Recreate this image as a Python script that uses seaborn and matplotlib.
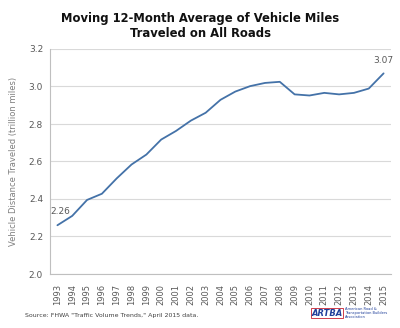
import matplotlib
matplotlib.use("Agg")
import matplotlib.pyplot as plt
import seaborn as sns
import pandas as pd
import numpy as np

years = [str(y) for y in range(1993, 2016)]
vmt = [2.26, 2.31, 2.395, 2.428, 2.51, 2.584, 2.637, 2.717, 2.763, 2.818, 2.86,
       2.929, 2.973, 3.002, 3.019, 3.025, 2.958, 2.952, 2.966, 2.958, 2.966, 2.989, 3.07]
yticks = [2.0, 2.2, 2.4, 2.6, 2.8, 3.0, 3.2]

sns.set_style("white")
plt.rcParams['font.family'] = ['DejaVu Sans']

df = pd.DataFrame({"year": years, "vmt": vmt})

fig = plt.figure(figsize=(4.0, 3.28), dpi=100)
ax = fig.add_axes([50/400, 1-274/328, 341/400, 225/328])

sns.lineplot(data=df, x="year", y="vmt", ax=ax, color="#4472a8", linewidth=1.3, sort=False)

ax.set_xlim(-0.5, len(years) - 0.5)
ax.set_ylim(2.0, 3.2)
ax.set_yticks(yticks)
ax.set_yticklabels([f"{t:.1f}" for t in yticks], fontsize=6.5, color="#595959")
ax.set_xticks(range(len(years)))
ax.set_xticklabels(years, rotation=90, fontsize=6, color="#595959")
ax.set_xticks(np.arange(-0.5, len(years), 1), minor=True)
ax.tick_params(axis='x', which='major', length=0, pad=7)
ax.tick_params(axis='x', which='minor', length=3, color="#bfbfbf", width=0.6)
ax.tick_params(axis='y', which='major', length=3, color="#bfbfbf", width=0.6, pad=2)
ax.grid(axis='y', color="#d9d9d9", linewidth=0.8)
ax.set_axisbelow(True)
for s in ['top', 'right']:
    ax.spines[s].set_visible(False)
for s in ['left', 'bottom']:
    ax.spines[s].set_color("#bfbfbf")
    ax.spines[s].set_linewidth(0.8)
ax.set_xlabel("")
ax.set_ylabel("Vehicle Distance Traveled (trillion miles)", fontsize=6, color="#7f7f7f", labelpad=8)

ax.annotate(f"{vmt[0]:.2f}", (0, vmt[0]), xytext=(-5, 7), textcoords="offset points",
            fontsize=6.5, color="#595959", ha="left", va="bottom")
ax.annotate(f"{vmt[-1]:.2f}", (len(years) - 1, vmt[-1]), xytext=(0, 6), textcoords="offset points",
            fontsize=6.5, color="#595959", ha="center", va="bottom")

fig.text(0.5, 1-26/328, "Moving 12-Month Average of Vehicle Miles\nTraveled on All Roads",
         ha="center", va="center", fontsize=9.3, fontweight="heavy", fontstretch="condensed",
         color="#111111", linespacing=1.25)

fig.text(25/400, 1-315/328, "Source: FHWA \"Traffic Volume Trends,\" April 2015 data.",
         fontsize=4.5, color="#404040", ha="left", va="center")

fig.text(327/400, 1-313/328, "ARTBA", fontsize=6, fontweight="heavy", fontstyle="italic",
         color="#1f3f9a", ha="center", va="center",
         bbox=dict(boxstyle="square,pad=0.1", fc="white", ec="#c8202f", lw=0.6))
fig.text(345/400, 1-313/328, "American Road &\nTransportation Builders\nAssociation",
         fontsize=2.6, color="#1f3f9a", ha="left", va="center", linespacing=1.0)

fig.savefig("out.png", dpi=100)
